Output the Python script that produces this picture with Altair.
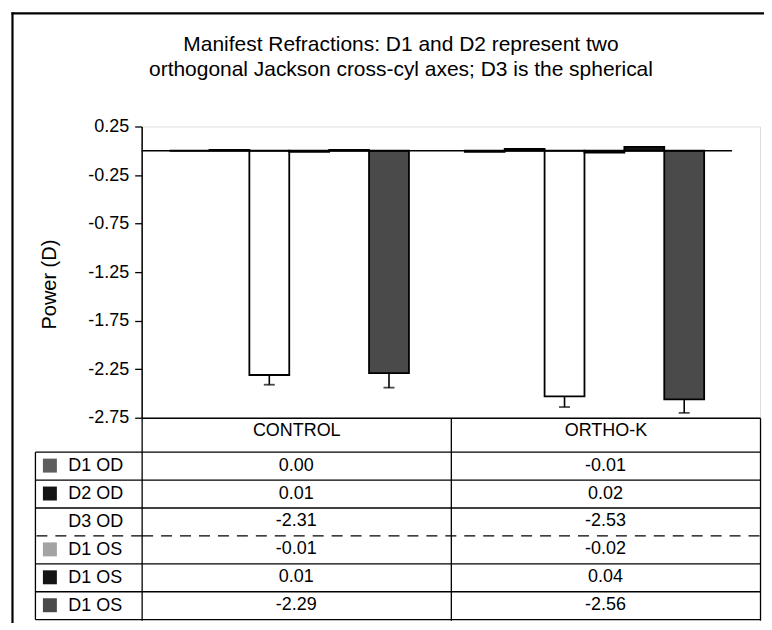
import json
import altair as alt
import pandas as pd

# ---------------- data ----------------
groups = ["CONTROL", "ORTHO-K"]
series = ["D1 OD", "D2 OD", "D3 OD", "D1 OS", "D2 OS", "D3 OS"]
row_labels = ["D1 OD", "D2 OD", "D3 OD", "D1 OS", "D1 OS", "D1 OS"]  # as printed
control = [0.00, 0.01, -2.31, -0.01, 0.01, -2.29]
ortho_k = [-0.01, 0.02, -2.53, -0.02, 0.04, -2.56]
err_series = ["D3 OD", "D3 OS"]
control_err = [0.10, 0.15]
ortho_k_err = [0.11, 0.14]
y_ticks = [0.25, -0.25, -0.75, -1.25, -1.75, -2.25, -2.75]
title_lines = ["Manifest Refractions: D1 and D2 represent two",
               "orthogonal Jackson cross-cyl axes; D3 is the spherical"]
colors = ["#5e5e5e", "#141414", "#ffffff", "#a3a3a3", "#141414", "#4a4a4a"]

# ---------------- tables built from the arrays ----------------
vals = []
for g, vs in zip(groups, [control, ortho_k]):
    for s, v in zip(series, vs):
        vals.append({"group": g, "series": s, "value": v})
df = pd.DataFrame(vals)

erows, crows = [], []
for g, vs, es in zip(groups, [control, ortho_k], [control_err, ortho_k_err]):
    for s, e in zip(err_series, es):
        v = vs[series.index(s)]
        erows.append({"group": g, "series": s, "value": v, "low": v - e})
        crows.append({"group": g, "series": s, "value": v - e})
edf = pd.DataFrame(erows)
cdf = pd.DataFrame(crows)
zdf = pd.DataFrame({"value": [0.0]})
sdf = pd.DataFrame({"series": series, "col": ["swatch"] * len(series)})
fdf = pd.DataFrame({"f": [0.5]})

W, H = 620, 292
FONT = "Liberation Sans"
ROW_TOP, ROW_BOT = 326, 494   # table rows, below the plot area
BAR_SPAN = 592

color = alt.Color("series:N", scale=alt.Scale(domain=series, range=colors), legend=None)

bar_scale = alt.Scale(domain=groups, range=[0, BAR_SPAN], paddingInner=0, paddingOuter=0)
x_bar = alt.X("group:N", scale=bar_scale, axis=None)
x_off = alt.XOffset("series:N", scale=alt.Scale(domain=series, paddingInner=0, paddingOuter=0.7))
y_pow = alt.Y("value:Q",
              scale=alt.Scale(domain=[-2.75, 0.25], nice=False, zero=False),
              axis=alt.Axis(values=y_ticks, format=".2f", title="Power (D)", orient="left",
                            grid=False, tickSize=7, labelPadding=6, labelFontSize=18,
                            labelFont=FONT, labelColor="black", tickColor="black",
                            domainColor="black", tickWidth=1.3, domainWidth=1.5,
                            titleFont=FONT, titleFontSize=20, titleFontWeight="normal",
                            titleColor="black", titlePadding=28, titleY=158))

bars = alt.Chart(df).mark_bar(stroke="black", strokeWidth=1.8).encode(
    x=x_bar, xOffset=x_off, y=y_pow, y2=alt.datum(0), color=color)
stems = alt.Chart(edf).mark_rule(color="black", strokeWidth=1.6).encode(
    x=x_bar, xOffset=x_off, y=y_pow, y2="low:Q")
caps = alt.Chart(cdf).mark_tick(color="black", size=11, thickness=1.8).encode(
    x=x_bar, xOffset=x_off, y=y_pow)
zero = alt.Chart(zdf).mark_rule(color="black", strokeWidth=1.6).encode(
    y=y_pow,
    x=alt.XDatum(groups[0], bandPosition=0, scale=bar_scale, axis=None),
    x2=alt.X2Datum(groups[-1], bandPosition=1))
power = alt.layer(bars, stems, caps, zero)

dash_test = "datum.value === 'D3 OD'"
label_expr = f"{json.dumps(row_labels)}[indexof({json.dumps(series)}, datum.value)]"

x_tab = alt.X("group:N", scale=alt.Scale(domain=groups, range=[0, W], paddingInner=0, paddingOuter=0),
              axis=alt.Axis(orient="bottom", title=None, tickBand="extent", tickSize=203,
                            labelPadding=-199, labelAngle=0, labelFontSize=18, labelFont=FONT,
                            labelColor="black", tickColor="black", domainColor="black",
                            tickWidth=1.3, domainWidth=1.5, grid=False))
y_tab = alt.Y("series:N",
              scale=alt.Scale(domain=series, range=[ROW_TOP, ROW_BOT], paddingInner=0, paddingOuter=0),
              axis=alt.Axis(orient="left", title=None, tickBand="extent", tickSize=107,
                            labelAlign="left", labelPadding=-33, labelExpr=label_expr,
                            labelFontSize=18, labelFont=FONT, labelColor="black",
                            tickColor="black", tickWidth=1.3, domain=False,
                            grid=True, gridColor="black", gridWidth=1.3, gridOpacity=1,
                            gridDash={"condition": {"test": dash_test, "value": [11, 8]}, "value": []},
                            tickDash={"condition": {"test": dash_test, "value": [11, 8]}, "value": []}))
table = alt.Chart(df).mark_text(font=FONT, fontSize=18, color="black", baseline="middle").encode(
    x=x_tab, y=y_tab, text=alt.Text("value:Q", format=".2f"))

swatches = alt.Chart(sdf).mark_square(size=196, opacity=1, strokeWidth=0).encode(
    x=alt.X("col:N", scale=alt.Scale(domain=["swatch"], range=[-106, -78]), axis=None),
    y=alt.Y("series:N",
            scale=alt.Scale(domain=series, range=[ROW_TOP, ROW_BOT], paddingInner=0, paddingOuter=0),
            axis=alt.Axis(orient="left", offset=107, title=None, ticks=False, labels=False,
                          grid=False, domain=True, domainColor="black", domainWidth=1.3)),
    color=color)

# page frame of the scanned figure (top and left edges), drawn as axis lines
frame = alt.Chart(fdf).mark_point(opacity=0).encode(
    x=alt.X("f:Q", scale=alt.Scale(domain=[0, 1], range=[-131, 640]),
            axis=alt.Axis(orient="top", offset=114, title=None, ticks=False, labels=False,
                          grid=False, domain=True, domainColor="black", domainWidth=2.2)),
    y=alt.Y("f:Q", scale=alt.Scale(domain=[1, 0], range=[-115, 510]),
            axis=alt.Axis(orient="left", offset=130, title=None, ticks=False, labels=False,
                          grid=False, domain=True, domainColor="black", domainWidth=2.2)))

chart = alt.layer(power, table, swatches, frame).resolve_scale(
    x="independent", y="independent"
).properties(
    width=W, height=H,
    title=alt.Title(title_lines, font=FONT, fontSize=21, fontWeight="normal", color="black",
                    lineHeight=25, anchor="middle", dx=-50, offset=-67),
    autosize=alt.AutoSizeParams(type="none"),
    padding={"left": 134, "top": 118, "right": 4, "bottom": 205},
).configure_view(stroke=None).configure(
    locale={"number": {"decimal": ".", "thousands": ",", "grouping": [3],
                       "currency": ["$", ""], "minus": "-"}}
)

chart.save("out.html", embed_options={"renderer": "svg", "actions": False})
